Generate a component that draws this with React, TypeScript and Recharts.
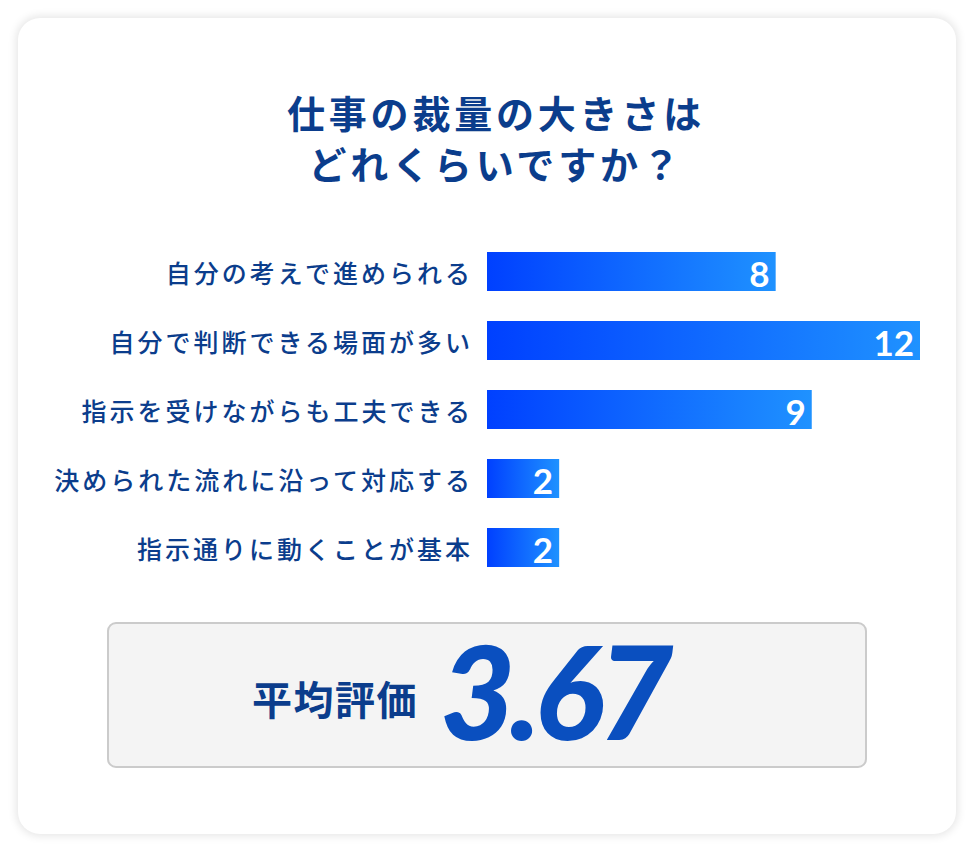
import { BarChart, Bar, XAxis, YAxis, LabelList } from "recharts";

const categories = [
  "自分の考えで進められる",
  "自分で判断できる場面が多い",
  "指示を受けながらも工夫できる",
  "決められた流れに沿って対応する",
  "指示通りに動くことが基本",
];
const counts = [8, 12, 9, 2, 2];
const titleLines = ["仕事の裁量の大きさは", "どれくらいですか？"];
const averageLabel = "平均評価";
const averageScore = "3.67";

const data = categories.map((name, i) => ({ name, value: counts[i] }));

const NAVY = "#0b3d8c";
const JP = '"Noto Sans CJK JP", "Noto Sans", sans-serif';

function CategoryTick(props: any) {
  const { y, payload } = props;
  return (
    <text
      x={473}
      y={y}
      textAnchor="end"
      dominantBaseline="central"
      fill={NAVY}
      fontFamily={JP}
      fontSize={25}
      fontWeight={500}
      letterSpacing={3}
    >
      {payload.value}
    </text>
  );
}

// each bar gets its own left-to-right gradient
function GradientBar(props: any) {
  const { x, y, width, height, index } = props;
  const id = `barGrad${index}`;
  return (
    <g>
      <defs>
        <linearGradient id={id} x1="0" y1="0" x2="1" y2="0">
          <stop offset="0" stopColor="#0040ff" />
          <stop offset="1" stopColor="#1f92ff" />
        </linearGradient>
      </defs>
      <rect x={x} y={y} width={width} height={height} fill={`url(#${id})`} />
    </g>
  );
}

function ValueLabel(props: any) {
  const { x, y, width, height, value } = props;
  return (
    <text
      x={x + width - 6}
      y={y + height / 2 + 1}
      textAnchor="end"
      dominantBaseline="central"
      fill="#fff"
      fontFamily="Lato, sans-serif"
      fontWeight={700}
      fontSize={35}
    >
      {value}
    </text>
  );
}

export default function App() {
  return (
    <div
      style={{
        position: "fixed",
        left: 0,
        top: 0,
        width: 974,
        height: 852,
        background: "#fff",
        overflow: "hidden",
      }}
    >
      <div
        style={{
          position: "absolute",
          left: 18,
          top: 18,
          width: 938,
          height: 816,
          borderRadius: 22,
          background: "#fff",
          boxShadow: "0 0 8px 2px rgba(0,0,0,0.10)",
        }}
      />
      <div
        style={{
          position: "absolute",
          left: 0,
          top: 86,
          width: 992,
          textAlign: "center",
          fontFamily: JP,
          fontWeight: 700,
          fontSize: 38,
          lineHeight: "51px",
          letterSpacing: 3.8,
          color: NAVY,
        }}
      >
        {titleLines.map((t) => (
          <div key={t}>{t}</div>
        ))}
      </div>
      <div style={{ position: "absolute", left: 0, top: 237 }}>
        <BarChart
          width={940}
          height={345}
          data={data}
          layout="vertical"
          margin={{ top: 0, right: 20, bottom: 0, left: 0 }}
          barCategoryGap={30}
        >
          <XAxis type="number" domain={[0, 12]} hide />
          <YAxis
            type="category"
            dataKey="name"
            width={487}
            axisLine={false}
            tickLine={false}
            tick={<CategoryTick />}
            interval={0}
          />
          <Bar
            dataKey="value"
            barSize={39}
            shape={<GradientBar />}
            isAnimationActive={false}
          >
            <LabelList dataKey="value" content={<ValueLabel />} />
          </Bar>
        </BarChart>
      </div>
      <div
        style={{
          position: "absolute",
          left: 107,
          top: 622,
          width: 756,
          height: 142,
          background: "#f4f4f4",
          border: "2px solid #cbcbcb",
          borderRadius: 9,
        }}
      />
      <div
        style={{
          position: "absolute",
          left: 252,
          top: 672,
          fontFamily: JP,
          fontWeight: 700,
          fontSize: 40,
          lineHeight: "52px",
          letterSpacing: 1.5,
          color: NAVY,
        }}
      >
        {averageLabel}
      </div>
      <div
        style={{
          position: "absolute",
          left: 440,
          top: 610,
          fontFamily: "Lato, sans-serif",
          fontWeight: 900,
          fontStyle: "italic",
          fontSize: 130,
          lineHeight: "160px",
          letterSpacing: -6,
          color: "#0a4fbf",
        }}
      >
        {averageScore}
      </div>
    </div>
  );
}
